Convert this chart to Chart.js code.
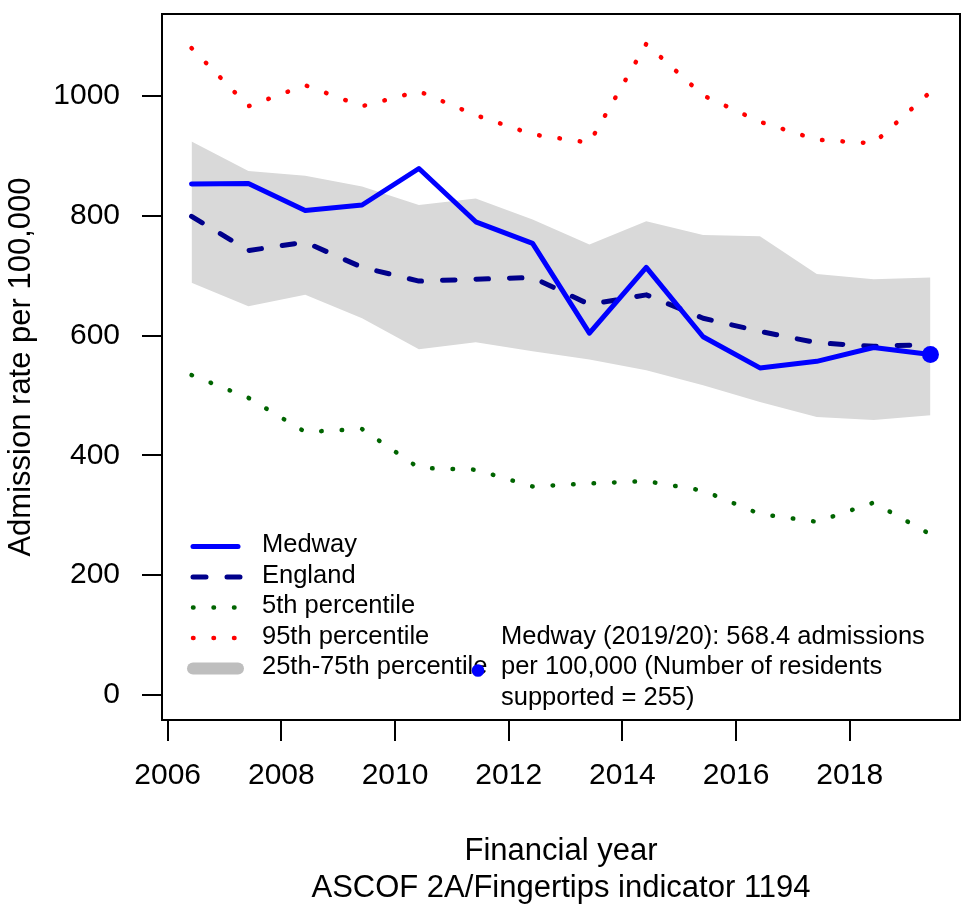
<!DOCTYPE html>
<html>
<head>
<meta charset="utf-8">
<script src="https://cdn.jsdelivr.net/npm/chart.js@4.4.1/dist/chart.umd.min.js"></script>
<style>
  html, body { margin: 0; padding: 0; background: #fff; }
  canvas { display: block; }
</style>
</head>
<body>
<canvas id="chart" width="971" height="911"></canvas>
<script>
// financial years, plotted a little after the calendar year start
var yearLabels = ['2006/07','2007/08','2008/09','2009/10','2010/11','2011/12','2012/13',
                  '2013/14','2014/15','2015/16','2016/17','2017/18','2018/19','2019/20'];
var yearX = [2006.42, 2007.42, 2008.42, 2009.42, 2010.42, 2011.42, 2012.42,
             2013.42, 2014.42, 2015.42, 2016.42, 2017.42, 2018.42, 2019.42];

var medway  = [853, 854, 809, 818, 879, 790, 754, 604, 714, 598, 546, 557, 580, 568.4];
var england = [799, 742, 756, 714, 691, 694, 697, 652, 668, 629, 607, 588, 582, 585];
var p5      = [534, 496, 439, 444, 379, 376, 348, 353, 357, 341, 302, 289, 321, 268];
var p95     = [1080, 983, 1018, 983, 1008, 968, 936, 922, 1087, 1001, 957, 927, 921, 1007];
var p25     = [688, 649, 668, 629, 577, 589, 574, 560, 542, 517, 489, 464, 459, 467];
var p75     = [924, 875, 867, 849, 818, 829, 794, 752, 791, 768, 766, 703, 694, 697];

var xTicks = [2006, 2008, 2010, 2012, 2014, 2016, 2018];
var yTicks = [0, 200, 400, 600, 800, 1000];

var residentsSupported = 255;

function pts(arr) {
  return arr.map(function (v, i) { return { x: yearX[i], y: v }; });
}

var FONT = '"Liberation Sans", Arial, Helvetica, sans-serif';

var boxPlugin = {
  id: 'box',
  afterDraw: function (chart) {
    var a = chart.chartArea, ctx = chart.ctx;
    ctx.save();
    ctx.strokeStyle = '#000';
    ctx.lineWidth = 2;
    ctx.strokeRect(a.left, a.top, a.right - a.left, a.bottom - a.top);
    ctx.restore();
  }
};

var legendPlugin = {
  id: 'rLegend',
  afterDraw: function (chart) {
    var a = chart.chartArea, ctx = chart.ctx;
    var x0 = a.left + 31, x1 = a.left + 76, tx = a.left + 100;
    var base = 552, step = 30.5;
    ctx.save();
    ctx.lineCap = 'round';
    var rows = [
      { text: 'Medway', color: '#0000FF', width: 5, dash: [] },
      { text: 'England', color: '#00008B', width: 5, dash: [13, 21] },
      { text: '5th percentile', color: '#006400', width: 4.5, dash: [0.5, 20] },
      { text: '95th percentile', color: '#FF0000', width: 4.5, dash: [0.5, 20] },
      { text: '25th-75th percentile', color: '#BEBEBE', width: 12, dash: [] }
    ];
    rows.forEach(function (r, i) {
      var yb = base + i * step;
      var ym = yb - 5.5;
      ctx.beginPath();
      ctx.setLineDash(r.dash);
      ctx.strokeStyle = r.color;
      ctx.lineWidth = r.width;
      ctx.moveTo(x0, ym);
      ctx.lineTo(x1 + (r.dash.length ? 3 : 0), ym);
      ctx.stroke();
      ctx.setLineDash([]);
      ctx.fillStyle = '#000';
      ctx.font = '25.5px ' + FONT;
      ctx.textBaseline = 'alphabetic';
      ctx.textAlign = 'left';
      ctx.fillText(r.text, tx, yb);
    });

    // latest value note
    var last = medway.length - 1;
    var note = [
      'Medway (' + yearLabels[last] + '): ' + medway[last].toFixed(1) + ' admissions',
      'per 100,000 (Number of residents',
      'supported = ' + residentsSupported + ')'
    ];
    var nx = 501, nb = base + 3 * step;
    ctx.fillStyle = '#0000FF';
    ctx.beginPath();
    ctx.arc(478, nb + step - 3.5, 6.3, 0, Math.PI * 2);
    ctx.fill();
    ctx.fillStyle = '#000';
    note.forEach(function (t, i) { ctx.fillText(t, nx, nb + i * step); });
    ctx.restore();
  }
};

var lineBase = {
  fill: false,
  pointRadius: 0,
  pointHoverRadius: 0,
  borderCapStyle: 'round',
  borderJoinStyle: 'round',
  tension: 0
};

new Chart(document.getElementById('chart'), {
  type: 'line',
  data: {
    datasets: [
      Object.assign({}, lineBase, {
        label: 'Medway', data: pts(medway), borderColor: '#0000FF', borderWidth: 5,
        pointRadius: medway.map(function (v, i) { return i === medway.length - 1 ? 8.5 : 0; }),
        pointBackgroundColor: '#0000FF', pointBorderWidth: 0
      }),
      Object.assign({}, lineBase, {
        label: 'England', data: pts(england), borderColor: '#00008B', borderWidth: 5,
        borderDash: [12.5, 21]
      }),
      Object.assign({}, lineBase, {
        label: '5th percentile', data: pts(p5), borderColor: '#006400', borderWidth: 4.5,
        borderDash: [0.5, 20]
      }),
      Object.assign({}, lineBase, {
        label: '95th percentile', data: pts(p95), borderColor: '#FF0000', borderWidth: 4.5,
        borderDash: [0.5, 20]
      }),
      Object.assign({}, lineBase, {
        label: '75th percentile', data: pts(p75), borderWidth: 0, borderColor: 'rgba(0,0,0,0)',
        backgroundColor: '#D9D9D9', fill: '+1'
      }),
      Object.assign({}, lineBase, {
        label: '25th percentile', data: pts(p25), borderWidth: 0, borderColor: 'rgba(0,0,0,0)'
      })
    ]
  },
  options: {
    responsive: false,
    animation: false,
    devicePixelRatio: 1,
    layout: { padding: { top: 14, right: 11, left: 0, bottom: 0 } },
    plugins: {
      legend: { display: false },
      tooltip: { enabled: false }
    },
    scales: {
      x: {
        type: 'linear',
        min: 2005.9,
        max: 2019.94,
        afterFit: function (s) {
          s.height = 191;
          s.paddingLeft = 0; s.paddingRight = 0;
        },
        afterBuildTicks: function (s) { s.ticks = xTicks.map(function (v) { return { value: v }; }); },
        grid: { drawOnChartArea: false, drawTicks: true, tickLength: 21, color: '#000', lineWidth: 2 },
        border: { display: true, color: '#000', width: 2 },
        ticks: {
          color: '#000', padding: 17, maxRotation: 0, autoSkip: false,
          font: { family: FONT, size: 30 },
          callback: function (v) { return String(v); }
        },
        title: {
          display: true,
          text: ['Financial year', 'ASCOF 2A/Fingertips indicator 1194'],
          color: '#000',
          font: { family: FONT, size: 31, lineHeight: 1.2 },
          padding: { top: 0, bottom: 4 }
        }
      },
      y: {
        min: -42,
        max: 1137,
        afterFit: function (s) {
          s.width = 162;
          s.paddingTop = 0; s.paddingBottom = 0;
        },
        afterBuildTicks: function (s) { s.ticks = yTicks.map(function (v) { return { value: v }; }); },
        grid: { drawOnChartArea: false, drawTicks: true, tickLength: 20, color: '#000', lineWidth: 2 },
        border: { display: true, color: '#000', width: 2 },
        ticks: {
          color: '#000', padding: 22, autoSkip: false,
          font: { family: FONT, size: 30 },
          callback: function (v) { return String(v); }
        },
        title: {
          display: true,
          text: 'Admission rate per 100,000',
          color: '#000',
          font: { family: FONT, size: 31, lineHeight: 1.2 },
          padding: { top: 3, bottom: 0 }
        }
      }
    }
  },
  plugins: [boxPlugin, legendPlugin]
});
</script>
</body>
</html>
